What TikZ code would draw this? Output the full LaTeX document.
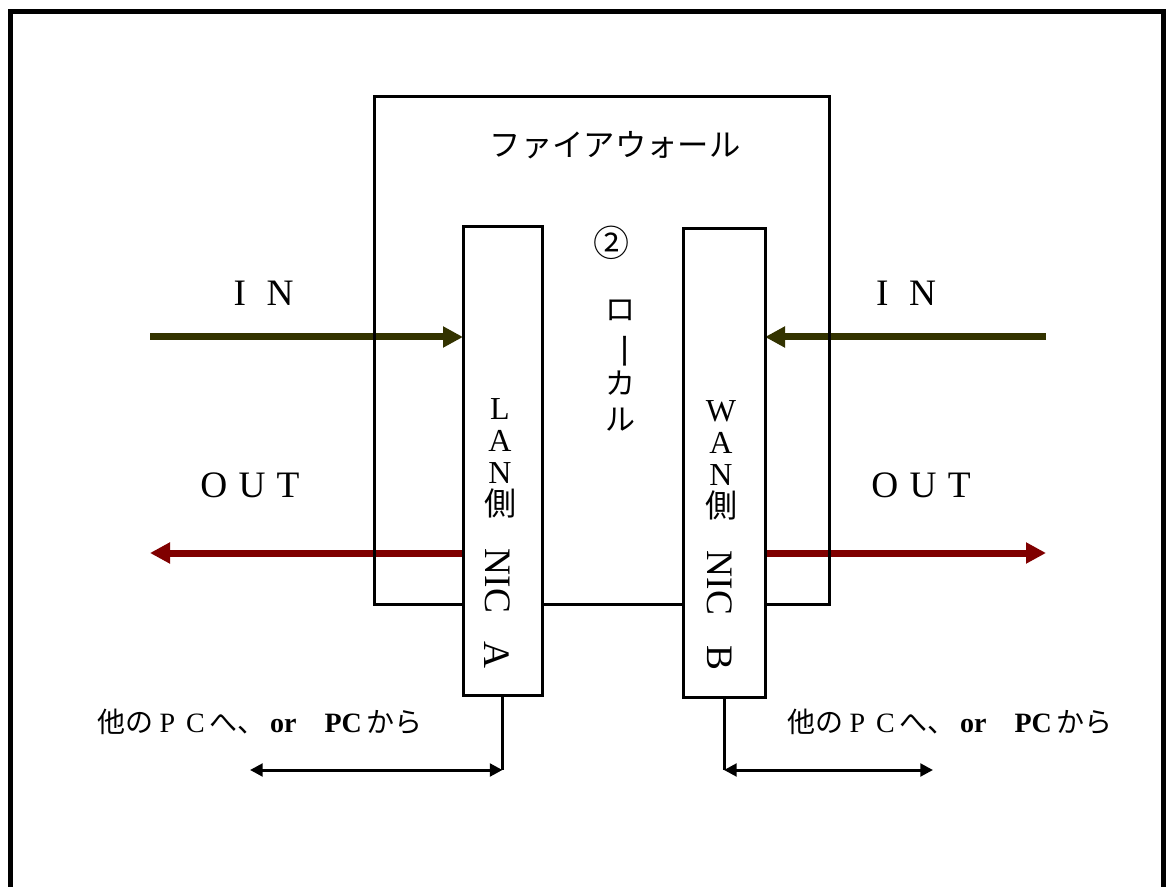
\documentclass[tikz,border=0pt]{standalone}
\usepackage{fontspec}
\usepackage{graphicx}
\setmainfont{Liberation Serif}
\newfontfamily\jp{Noto Sans CJK JP}
\usetikzlibrary{arrows.meta}
\definecolor{inclr}{HTML}{333300}
\definecolor{outclr}{HTML}{800000}
\begin{document}
\begin{tikzpicture}[x=0.75pt,y=-0.75pt,
  frame/.style={draw, line width=3.75pt},
  fwbox/.style={draw, line width=2.25pt, rectangle, inner sep=0pt},
  nicbox/.style={draw, fill=white, line width=2.25pt, rectangle, inner sep=0pt},
  inarrow/.style={draw=inclr, line width=5.25pt, -{Triangle[length=15pt,width=15pt]}},
  outarrow/.style={draw=outclr, line width=5.25pt, -{Triangle[length=15pt,width=15pt]}},
  pcline/.style={draw, line width=2.25pt},
  pcarrow/.style={draw, line width=2.25pt, >={Triangle[length=9.5pt,width=9.5pt]}, <->},
  lbl/.style={inner sep=0pt, font=\fontsize{28}{30}\selectfont},
  jplbl/.style={inner sep=0pt},
  vlbl/.style={inner sep=0pt, font=\fontsize{24}{24}\selectfont, align=center},
  rlbl/.style={inner sep=0pt, font=\fontsize{28}{30}\selectfont, rotate=-90},
  pctext/.style={inner sep=0pt, font=\fontsize{21}{24}\selectfont}
]
\useasboundingbox (0,0) rectangle (1167,887);
% outer frame (bottom edge lies below the page)
\draw[frame] (10,11.5) rectangle (1163.5,940);

\coordinate (inLs) at (150,337);
\coordinate (outLe) at (150,553);
\coordinate (inRs) at (1046,337);
\coordinate (outRe) at (1046,553);

% NIC box outlines for anchors (drawn later on top)
\path (502.5,461) node[minimum width=59.25pt, minimum height=351pt, inner sep=0pt, outer sep=0pt] (lan0) {};
\path (724,463) node[minimum width=61.5pt, minimum height=351pt, inner sep=0pt, outer sep=0pt] (wan0) {};

\draw[inarrow] (inLs) -- (lan0.west |- inLs);
\draw[outarrow] (lan0.west |- outLe) -- (outLe);
\draw[inarrow] (inRs) -- (wan0.east |- inRs);
\draw[outarrow] (wan0.east |- outRe) -- (outRe);

% firewall box
\node[fwbox, minimum width=341.25pt, minimum height=380.25pt] (fw) at (601.5,350.5) {};
\node[jplbl, font=\jp\fontsize{23.5}{26}\selectfont] (fwt) at (615,145) {ファイアウォール};
\node[jplbl, font=\jp\fontsize{27}{28}\selectfont] (num) at (611,243) {②};
\node[jplbl, font=\jp\fontsize{22.5}{27.5}\selectfont, align=center] (local) at (620,366)
  {ロ\\\rotatebox[origin=c]{-90}{\scalebox{1.25}[1]{ー}}\\カ\\ル};

% NIC boxes on top
\node[nicbox, minimum width=59.25pt, minimum height=351pt, outer sep=0pt] (lan) at (502.5,461) {};
\node[nicbox, minimum width=61.5pt, minimum height=351pt, outer sep=0pt] (wan) at (724,463) {};

% NIC texts
\node[vlbl] (lant) at (500,458) {L\\A\\N\\{\jp 側}};
\node[rlbl] (lannic) at (498,581) {NIC};
\node[rlbl] (lana) at (497,655) {A};
\node[vlbl] (want) at (721,460) {W\\A\\N\\{\jp 側}};
\node[rlbl] (wannic) at (720,583) {NIC};
\node[rlbl] (wanb) at (720,658) {B};

% IN / OUT labels
\node[lbl] (inL) at (263.5,293) {I\hspace{0.55em}N};
\node[lbl] (outL) at (250,485) {O\hspace{0.3em}U\hspace{0.3em}T};
\node[lbl] (inR) at (906,293) {I\hspace{0.55em}N};
\node[lbl] (outR) at (921,485) {O\hspace{0.3em}U\hspace{0.3em}T};

% connections to other PCs
\coordinate (lanpcend) at (250,770);
\coordinate (lanpc) at (lanpcend -| lan.south);
\draw[pcline] (lan.south) -- (lanpc);
\draw[pcarrow] (lanpcend) -- (lanpc);
\coordinate (wanpcend) at (933,770);
\coordinate (wanpc) at (wanpcend -| wan.south);
\draw[pcline] (wan.south) -- (wanpc);
\draw[pcarrow] (wanpc) -- (wanpcend);

\node[pctext] (pcL) at (260,722)
  {{\jp 他の}\makebox[1em]{P}\makebox[1em]{C}{\jp へ、}\textbf{\,or}\hspace{1em}\textbf{PC}\,{\jp から}};
\node[pctext] (pcR) at (950,722)
  {{\jp 他の}\makebox[1em]{P}\makebox[1em]{C}{\jp へ、}\textbf{\,or}\hspace{1em}\textbf{PC}\,{\jp から}};
\end{tikzpicture}
\end{document}
